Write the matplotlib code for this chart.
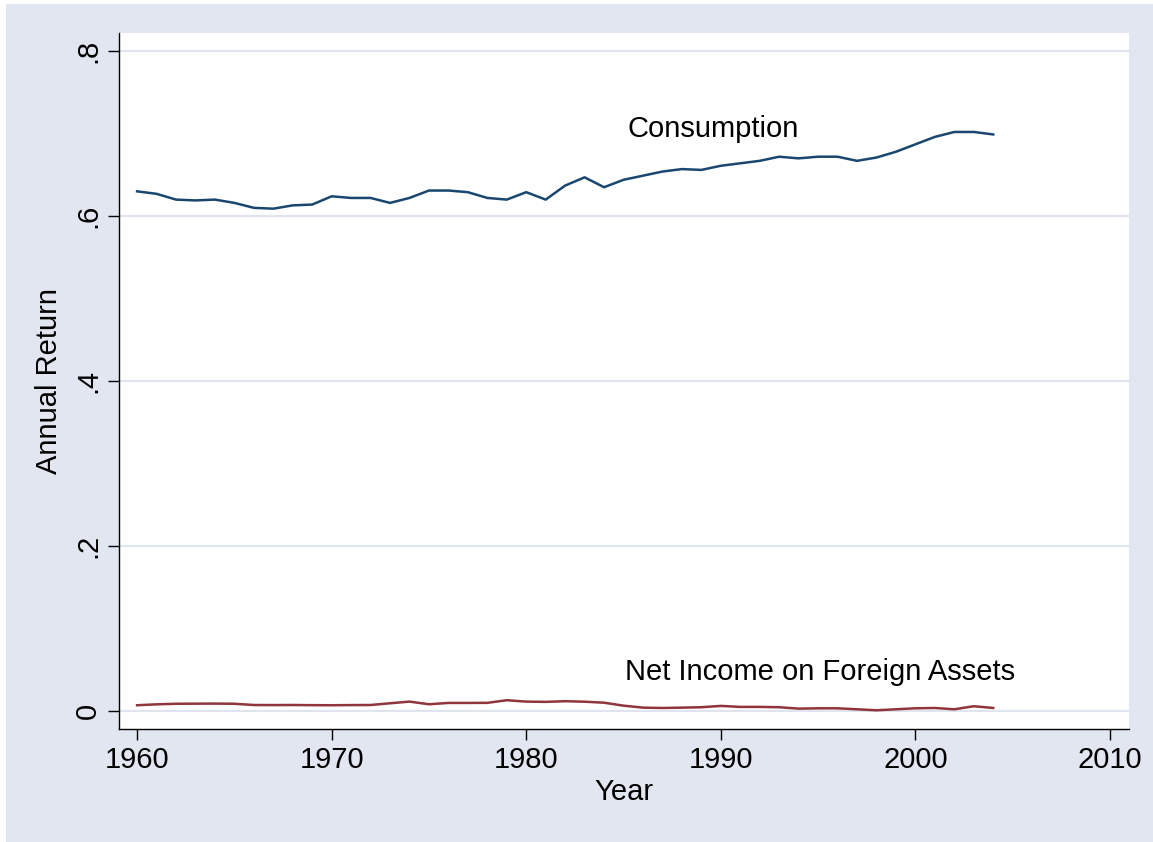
import matplotlib
matplotlib.use("Agg")
import matplotlib.pyplot as plt
from matplotlib.patches import Rectangle

plt.rcParams.update({"font.family": ["Liberation Sans", "DejaVu Sans"], "font.size": 21})

BG, GRID, NAVY, MAROON = "#e1e6f0", "#dfe4ee", "#1a476f", "#90353b"

years = list(range(1960, 2005))
consumption = [0.630, 0.627, 0.620, 0.619, 0.620, 0.616, 0.610, 0.609, 0.613, 0.614,
               0.624, 0.622, 0.622, 0.616, 0.622, 0.631, 0.631, 0.629, 0.622, 0.620,
               0.629, 0.620, 0.637, 0.647, 0.635, 0.644, 0.649, 0.654, 0.657, 0.656,
               0.661, 0.664, 0.667, 0.672, 0.670, 0.672, 0.672, 0.667, 0.671, 0.678,
               0.687, 0.696, 0.702, 0.702, 0.699]
net_income = [0.0069, 0.0080, 0.0087, 0.0088, 0.0089, 0.0087, 0.0072, 0.0071, 0.0072, 0.0070,
              0.0069, 0.0071, 0.0072, 0.0093, 0.0113, 0.0081, 0.0097, 0.0097, 0.0098, 0.0130,
              0.0113, 0.0110, 0.0118, 0.0112, 0.0100, 0.0064, 0.0040, 0.0036, 0.0040, 0.0045,
              0.0061, 0.0049, 0.0049, 0.0045, 0.0028, 0.0032, 0.0032, 0.0020, 0.0008, 0.0020,
              0.0032, 0.0036, 0.0020, 0.0057, 0.0036]
yticks = [0, 0.2, 0.4, 0.6, 0.8]
ylabels = ["0", ".2", ".4", ".6", ".8"]
xticks = [1960, 1970, 1980, 1990, 2000, 2010]

W, H = 1153, 842
fig = plt.figure(figsize=(W / 100, H / 100), dpi=100)
fig.patch.set_facecolor("white")
fig.patches.append(Rectangle((6 / W, 0), 1, (H - 4) / H, transform=fig.transFigure,
                             facecolor=BG, edgecolor="none", zorder=-10))
ax = fig.add_axes([119 / W, (H - 729) / H, (1129 - 119) / W, (729 - 33) / H])
ax.set_facecolor("white")

ax.plot(years, consumption, color=NAVY, lw=1.8, zorder=3)
ax.plot(years, net_income, color=MAROON, lw=1.8, zorder=3)
ax.text(1985.2, 0.706, "Consumption", fontsize=21, va="center", ha="left")
ax.text(1985.1, 0.047, "Net Income on Foreign Assets", fontsize=21, va="center", ha="left")

ax.set_xlim(1959.07, 2010.98)
ax.set_ylim(-0.0219, 0.822)
ax.set_yticks(yticks)
ax.set_yticklabels(ylabels, rotation=90, va="center")
ax.set_xticks(xticks)
for y in yticks:
    ax.axhline(y, color=GRID, lw=1.6, zorder=1)
ax.tick_params(axis="both", length=8, width=1, color="black", pad=4, labelsize=21)
for s in ["top", "right"]:
    ax.spines[s].set_visible(False)
for s in ["left", "bottom"]:
    ax.spines[s].set_linewidth(1)
ax.set_ylabel("Annual Return", fontsize=21, labelpad=8)
ax.set_xlabel("Year", fontsize=21, labelpad=3)

fig.savefig("out.png", dpi=100, facecolor=fig.get_facecolor())
